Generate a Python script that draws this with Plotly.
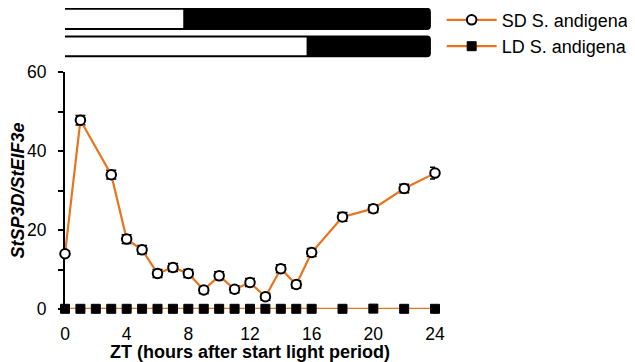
import plotly.graph_objects as go

# ---- data ----
sd_zt = [0, 1, 3, 4, 5, 6, 7, 8, 9, 10, 11, 12, 13, 14, 15, 16, 18, 20, 22, 24]
sd_val = [14.0, 47.8, 34.0, 17.7, 15.0, 9.0, 10.5, 9.0, 4.8, 8.4, 5.0, 6.7, 3.1, 10.2, 6.2, 14.3, 23.3, 25.4, 30.5, 34.4]
sd_err = [0.6, 1.2, 1.1, 1.1, 1.1, 1.0, 1.0, 1.0, 0.9, 1.0, 0.9, 1.0, 0.9, 1.0, 0.9, 1.0, 1.1, 1.0, 1.1, 1.5]

ld_zt = [0, 1, 2, 3, 4, 5, 6, 7, 8, 9, 10, 11, 12, 13, 14, 15, 16, 18, 20, 22, 24]
ld_val = [0.05, 0.05, 0.05, 0.05, 0.05, 0.05, 0.05, 0.05, 0.05, 0.05, 0.05, 0.05, 0.05, 0.05, 0.05, 0.05, 0.05, 0.05, 0.1, 0.05, 0.05]
ld_err = [0.05] * len(ld_zt)

x_ticks = [0, 4, 8, 12, 16, 20, 24]
y_ticks = [0, 20, 40, 60]

# light period lengths (hours of light) for the day-length bars
light_hours = {"SD": 8, "LD": 16}
day_length = 24

ORANGE = "#E8741E"
FONT = "Liberation Sans, Arial, sans-serif"

fig = go.Figure()

fig.add_trace(go.Scatter(
    x=sd_zt, y=sd_val, name="SD S. andigena", mode="lines+markers",
    line=dict(color=ORANGE, width=2.2),
    marker=dict(symbol="circle", size=9.5, color="white", line=dict(color="black", width=2)),
    error_y=dict(type="data", array=sd_err, color="black", thickness=1.5, width=5),
    cliponaxis=False,
))
fig.add_trace(go.Scatter(
    x=ld_zt, y=ld_val, name="LD S. andigena", mode="lines+markers",
    line=dict(color=ORANGE, width=2.2),
    marker=dict(symbol="square", size=9, color="black", line=dict(color="black", width=1)),
    error_y=dict(type="data", array=ld_err, color="black", thickness=1.2, width=3),
    cliponaxis=False,
))

# ---- light/dark bars above the plot ----
PX_X = 370 / 24.0   # px per hour
PX_Y = 237.0        # px per paper unit


def rounded_path(x0, x1, y0, y1, r=3, left=True, right=True):
    rx = r / PX_X
    ry = r / PX_Y
    p = []
    if left:
        p.append(f"M{x0 + rx},{y0}")
    else:
        p.append(f"M{x0},{y0}")
    if right:
        p.append(f"L{x1 - rx},{y0} Q{x1},{y0} {x1},{y0 + ry} L{x1},{y1 - ry} Q{x1},{y1} {x1 - rx},{y1}")
    else:
        p.append(f"L{x1},{y0} L{x1},{y1}")
    if left:
        p.append(f"L{x0 + rx},{y1} Q{x0},{y1} {x0},{y1 - ry} L{x0},{y0 + ry} Q{x0},{y0} {x0 + rx},{y0} Z")
    else:
        p.append(f"L{x0},{y1} Z")
    return " ".join(p)


offset = -0.33
bar_rows = [("SD", 1.181, 1.267), ("LD", 1.066, 1.150)]
shapes = []
for key, y0, y1 in bar_rows:
    xs = 0 + offset
    xe = day_length + offset
    xl = light_hours[key] + offset
    shapes.append(dict(type="path", xref="x", yref="paper", path=rounded_path(xs, xe, y0, y1),
                       fillcolor="black", line=dict(width=0)))
    shapes.append(dict(type="path", xref="x", yref="paper", path=rounded_path(xs, xl, y0, y1, right=False),
                       fillcolor="white", line=dict(width=0)))
    shapes.append(dict(type="path", xref="x", yref="paper", path=rounded_path(xs, xe, y0, y1),
                       fillcolor="rgba(0,0,0,0)", line=dict(color="black", width=2)))

# page has an 8px body margin, so the figure is drawn 8px smaller and shifted
fig.update_layout(
    width=627, height=354,
    margin=dict(l=57, r=200, t=64, b=53, autoexpand=False),
    paper_bgcolor="white", plot_bgcolor="white",
    font=dict(family=FONT, size=18, color="black"),
    shapes=shapes,
    showlegend=True,
    legend=dict(x=1.018, y=1.297, xanchor="left", yanchor="top",
                font=dict(family=FONT, size=18, color="black"),
                itemwidth=50, tracegroupgap=0, bgcolor="rgba(0,0,0,0)"),
    xaxis=dict(range=[0, 24], tickvals=x_ticks, ticktext=[str(v) for v in x_ticks],
               showgrid=False, zeroline=False, showline=False, ticks="",
               ticklabelstandoff=12, tickfont=dict(size=17.5),
               title=dict(text="<b>ZT (hours after start light period)</b>", standoff=4,
                          font=dict(family=FONT, size=18))),
    yaxis=dict(range=[0, 60], tickvals=y_ticks, ticktext=[str(v) for v in y_ticks],
               showgrid=False, zeroline=False, showline=True, linecolor="black", linewidth=2,
               ticks="outside", ticklen=5, tickwidth=1.5, tickcolor="black",
               minor=dict(tickvals=[10, 30, 50], ticks="outside", ticklen=5, tickwidth=1.5, tickcolor="black"),
               ticklabelstandoff=8, layer="below traces", tickfont=dict(size=17.5),
               title=dict(text="<b><i>StSP3D/StEIF3e</i></b>", standoff=1,
                          font=dict(family=FONT, size=18))),
)

fig.write_html("out.html")
